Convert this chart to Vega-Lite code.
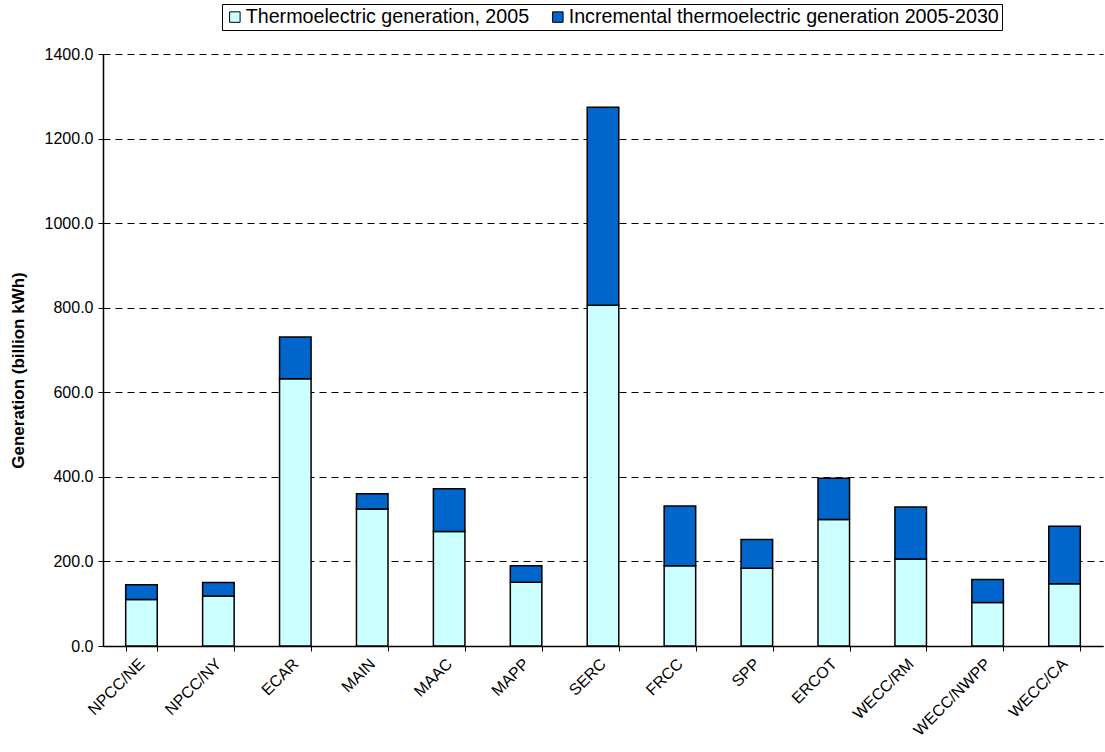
{
  "$schema": "https://vega.github.io/schema/vega-lite/v6.json",
  "width": 1000,
  "height": 592,
  "autosize": {"type": "none"},
  "padding": {"left": 103, "top": 54, "right": 2, "bottom": 106},
  "config": {
    "font": "Liberation Sans",
    "view": {"stroke": null},
    "axis": {"domainColor": "black", "tickColor": "black", "labelColor": "black", "titleColor": "black"}
  },
  "data": {
    "values": [
      {"region": "NPCC/NE", "series": "Thermoelectric generation, 2005", "k": 1, "value": 110},
      {"region": "NPCC/NE", "series": "Incremental thermoelectric generation 2005-2030", "k": 2, "value": 35},
      {"region": "NPCC/NY", "series": "Thermoelectric generation, 2005", "k": 1, "value": 118},
      {"region": "NPCC/NY", "series": "Incremental thermoelectric generation 2005-2030", "k": 2, "value": 32},
      {"region": "ECAR", "series": "Thermoelectric generation, 2005", "k": 1, "value": 632},
      {"region": "ECAR", "series": "Incremental thermoelectric generation 2005-2030", "k": 2, "value": 99},
      {"region": "MAIN", "series": "Thermoelectric generation, 2005", "k": 1, "value": 324},
      {"region": "MAIN", "series": "Incremental thermoelectric generation 2005-2030", "k": 2, "value": 36},
      {"region": "MAAC", "series": "Thermoelectric generation, 2005", "k": 1, "value": 271},
      {"region": "MAAC", "series": "Incremental thermoelectric generation 2005-2030", "k": 2, "value": 101},
      {"region": "MAPP", "series": "Thermoelectric generation, 2005", "k": 1, "value": 151},
      {"region": "MAPP", "series": "Incremental thermoelectric generation 2005-2030", "k": 2, "value": 39},
      {"region": "SERC", "series": "Thermoelectric generation, 2005", "k": 1, "value": 806},
      {"region": "SERC", "series": "Incremental thermoelectric generation 2005-2030", "k": 2, "value": 468},
      {"region": "FRCC", "series": "Thermoelectric generation, 2005", "k": 1, "value": 190},
      {"region": "FRCC", "series": "Incremental thermoelectric generation 2005-2030", "k": 2, "value": 141},
      {"region": "SPP", "series": "Thermoelectric generation, 2005", "k": 1, "value": 184},
      {"region": "SPP", "series": "Incremental thermoelectric generation 2005-2030", "k": 2, "value": 68},
      {"region": "ERCOT", "series": "Thermoelectric generation, 2005", "k": 1, "value": 299},
      {"region": "ERCOT", "series": "Incremental thermoelectric generation 2005-2030", "k": 2, "value": 98},
      {"region": "WECC/RM", "series": "Thermoelectric generation, 2005", "k": 1, "value": 206},
      {"region": "WECC/RM", "series": "Incremental thermoelectric generation 2005-2030", "k": 2, "value": 123},
      {"region": "WECC/NWPP", "series": "Thermoelectric generation, 2005", "k": 1, "value": 103},
      {"region": "WECC/NWPP", "series": "Incremental thermoelectric generation 2005-2030", "k": 2, "value": 54},
      {"region": "WECC/CA", "series": "Thermoelectric generation, 2005", "k": 1, "value": 147},
      {"region": "WECC/CA", "series": "Incremental thermoelectric generation 2005-2030", "k": 2, "value": 136}
    ]
  },
  "mark": {"type": "bar", "stroke": "black", "strokeWidth": 1.5},
  "encoding": {
    "x": {
      "field": "region",
      "type": "nominal",
      "sort": null,
      "scale": {"paddingInner": 0.59, "paddingOuter": 0.295},
      "axis": {
        "title": null,
        "labelAngle": -45,
        "labelAlign": "right",
        "labelBaseline": "middle",
        "labelFontSize": 16,
        "labelPadding": 10,
        "tickBand": "extent",
        "tickSize": 5,
        "domainWidth": 1.5
      }
    },
    "y": {
      "field": "value",
      "type": "quantitative",
      "stack": "zero",
      "scale": {"domain": [0, 1400], "nice": false},
      "axis": {
        "title": "Generation (billion kWh)",
        "titleFontSize": 17,
        "titleFontWeight": "bold",
        "titlePadding": 17,
        "titleY": 316,
        "values": [0, 200, 400, 600, 800, 1000, 1200, 1400],
        "format": ".1f",
        "labelFontSize": 16,
        "labelPadding": 5,
        "tickSize": 5,
        "domainWidth": 1.5,
        "grid": true,
        "gridColor": "black",
        "gridDash": [7, 5],
        "gridWidth": 1
      }
    },
    "color": {
      "field": "series",
      "type": "nominal",
      "scale": {
        "domain": ["Thermoelectric generation, 2005", "Incremental thermoelectric generation 2005-2030"],
        "range": ["#CCFFFF", "#0066CC"]
      },
      "legend": {
        "title": null,
        "orient": "none",
        "direction": "horizontal",
        "legendX": 119,
        "legendY": -50,
        "strokeColor": "black",
        "padding": 3,
        "symbolType": "square",
        "symbolSize": 110,
        "symbolStrokeColor": "black",
        "symbolStrokeWidth": 1,
        "symbolOpacity": 1,
        "labelFontSize": 19.7,
        "labelColor": "black",
        "labelLimit": 600,
        "columnPadding": 18,
        "symbolOffset": 0,
        "labelOffset": 1
      }
    },
    "order": {"field": "k", "type": "quantitative"}
  }
}
